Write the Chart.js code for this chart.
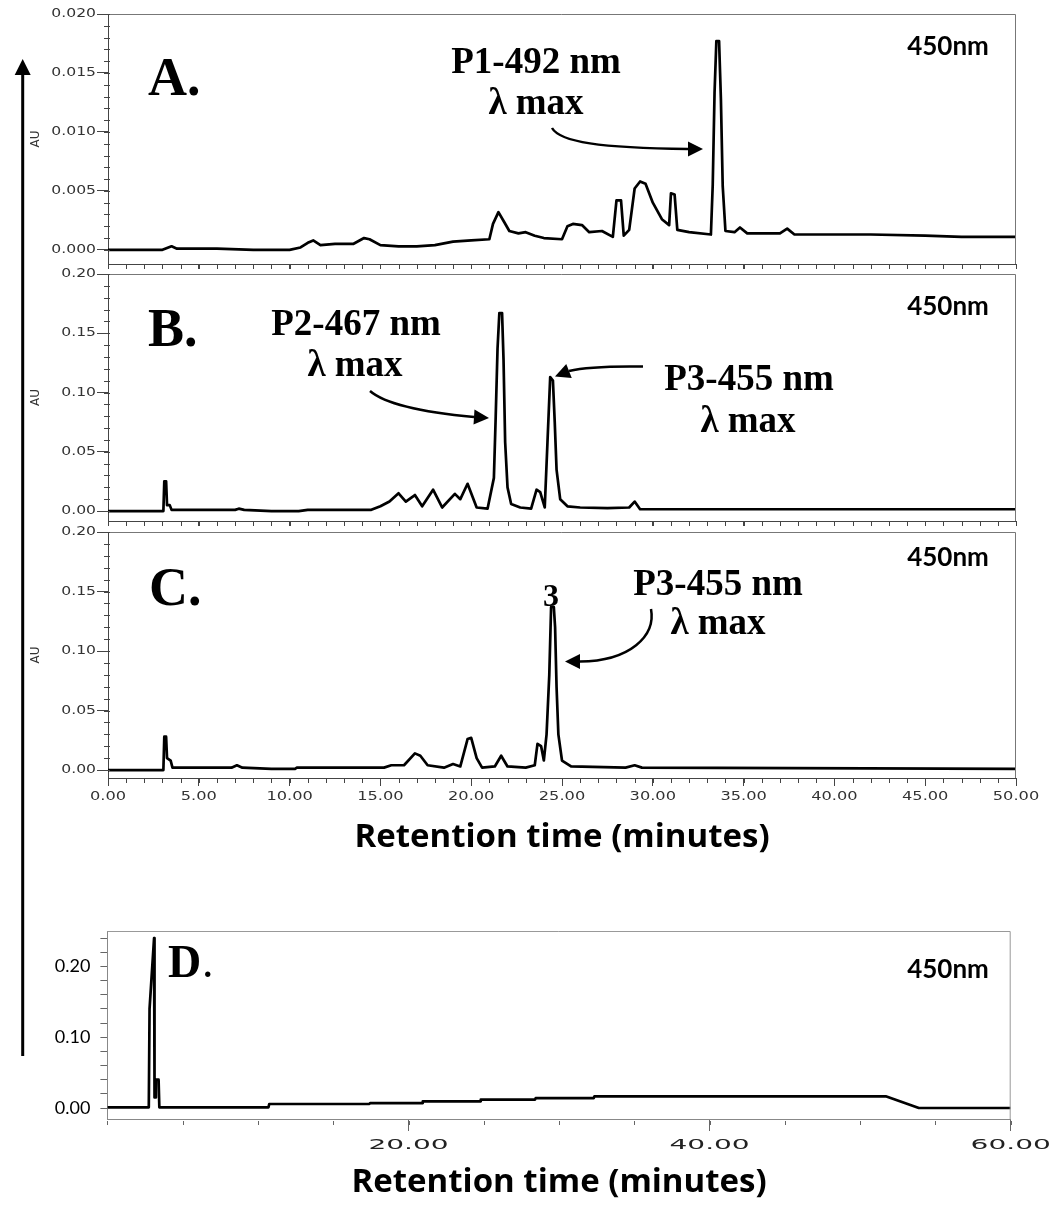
<!DOCTYPE html>
<html>
<head>
<meta charset="utf-8">
<script src="https://cdn.jsdelivr.net/npm/chart.js@4.4.1/dist/chart.umd.min.js"></script>
<style>
  html, body { margin: 0; background: #fff; }
  #wrap { position: relative; width: 1057px; height: 1205px; }
  #wrap canvas { position: absolute; left: 0; top: 0; }
</style>
</head>
<body>
<div id="wrap">
  <canvas id="chartA" width="1057" height="1205"></canvas>
  <canvas id="chartB" width="1057" height="1205"></canvas>
  <canvas id="chartC" width="1057" height="1205"></canvas>
  <canvas id="chartD" width="1057" height="1205"></canvas>
</div>
<script>
// --- Data: retention time (min) and absorbance (AU) at 450 nm ---
const timeA = [0, 3.0, 3.5, 3.8, 6.0, 8.0, 10.0, 10.6, 11.0, 11.3, 11.7, 12.5, 13.5, 14.1, 14.4, 15.0,
  16.0, 17.0, 18.0, 19.0, 20.0, 21.0, 21.2, 21.5, 21.8, 22.1, 22.6, 23.0, 23.5, 24.0,
  25.0, 25.3, 25.6, 26.1, 26.5, 27.2, 27.8, 28.0, 28.25, 28.4, 28.7, 29.0, 29.3, 29.6, 30.0, 30.5, 30.9,
  31.0, 31.2, 31.35, 32.0, 33.2, 33.3, 33.4, 33.5, 33.65, 33.75, 33.85, 34.0, 34.5, 34.8, 35.2,
  37.0, 37.4, 37.8, 42.0, 45.0, 47.0, 50.0];
const auA = [0.0000, 0.0000, 0.0003, 0.0001, 0.0001, 0.0000, 0.0000, 0.0002, 0.0006, 0.0008, 0.0004, 0.0005, 0.0005, 0.0010, 0.0009, 0.0004,
  0.0003, 0.0003, 0.0004, 0.0007, 0.0008, 0.0009, 0.0022, 0.0032, 0.0024, 0.0016, 0.0014, 0.0015, 0.0012, 0.0010,
  0.0009, 0.0020, 0.0022, 0.0021, 0.0015, 0.0016, 0.0011, 0.0042, 0.0042, 0.0012, 0.0017, 0.0052, 0.0058, 0.0056, 0.0040, 0.0026, 0.0021,
  0.0048, 0.0047, 0.0017, 0.0015, 0.0013, 0.0055, 0.0133, 0.0177, 0.0177, 0.0128, 0.0054, 0.0016, 0.0015, 0.0019, 0.0014,
  0.0014, 0.0018, 0.0013, 0.0013, 0.0012, 0.0011, 0.0011];

const timeB = [0, 3.05, 3.1, 3.2, 3.25, 3.4, 3.5, 7.0, 7.2, 7.5, 9.0, 10.5, 11.0, 14.5,
  15.0, 15.5, 16.0, 16.4, 16.9, 17.3, 17.9, 18.4, 19.1, 19.4, 19.8, 20.3, 20.9,
  21.25, 21.35, 21.45, 21.55, 21.7, 21.78, 21.87, 22.0, 22.2, 22.7, 23.3, 23.6, 23.8, 24.05,
  24.2, 24.35, 24.5, 24.6, 24.7, 24.9, 25.3, 26.0, 27.5, 28.7, 29.0, 29.3, 50];
const auB = [0, 0, 0.025, 0.025, 0.005, 0.005, 0.001, 0.001, 0.002, 0.001, 0.0, 0.0, 0.001, 0.001,
  0.004, 0.008, 0.015, 0.008, 0.0135, 0.004, 0.018, 0.003, 0.0145, 0.010, 0.023, 0.003, 0.002,
  0.028, 0.080, 0.137, 0.167, 0.167, 0.128, 0.058, 0.020, 0.006, 0.003, 0.002, 0.018, 0.016, 0.003,
  0.058, 0.113, 0.110, 0.075, 0.035, 0.010, 0.004, 0.003, 0.0025, 0.003, 0.008, 0.0015, 0.0015];

const timeC = [0, 3.05, 3.1, 3.2, 3.25, 3.45, 3.55, 6.8, 7.1, 7.4, 9.0, 10.3, 10.4,
  15.2, 15.6, 16.3, 16.9, 17.2, 17.6, 18.5, 19.0, 19.4, 19.8, 20.0, 20.3, 20.6,
  21.3, 21.65, 22.0, 23.0, 23.5, 23.65, 23.85, 24.0, 24.15, 24.3, 24.4, 24.55, 24.62, 24.7, 24.8, 25.0, 25.5,
  28.5, 29.0, 29.4, 50];
const auC = [0, 0, 0.028, 0.028, 0.010, 0.008, 0.002, 0.002, 0.004, 0.002, 0.001, 0.001, 0.002,
  0.002, 0.004, 0.004, 0.014, 0.012, 0.004, 0.002, 0.005, 0.003, 0.026, 0.027, 0.010, 0.002,
  0.003, 0.012, 0.003, 0.002, 0.004, 0.022, 0.020, 0.008, 0.030, 0.080, 0.137, 0.137, 0.120, 0.070, 0.030, 0.008, 0.003,
  0.002, 0.004, 0.002, 0.001];

const timeD = [0, 2.75, 2.8, 3.1, 3.13, 3.2, 3.22, 3.4, 3.45, 10.7, 10.75, 17.4, 17.45,
  20.9, 20.95, 24.75, 24.8, 28.4, 28.45, 32.3, 32.35, 51.7, 53.9, 60];
const auD = [0.001, 0.001, 0.140, 0.240, 0.015, 0.015, 0.040, 0.040, 0.001, 0.001, 0.0057, 0.0057, 0.007,
  0.007, 0.0094, 0.0094, 0.0118, 0.0118, 0.014, 0.014, 0.0165, 0.0165, 0.000, 0.000];

// tick labels shown on panel D
const labelsDY = [0, 0.1, 0.2];
const labelsDX = [20, 40, 60];

const W = 1057, H = 1205;
const SERIF = '"Liberation Serif", "Times New Roman", serif';
const XTITLE = { display: true, text: 'Retention time (minutes)', color: '#000',
  font: { family: 'Open Sans', weight: 'bold', size: 33 }, padding: 0 };

// --- Helpers ---
function drawArrow(ctx, w) {
  const p = w.p;
  ctx.lineWidth = w.lw || 2.5;
  ctx.strokeStyle = '#000';
  ctx.fillStyle = '#000';
  ctx.beginPath();
  ctx.moveTo(p[0], p[1]);
  ctx.bezierCurveTo(p[2], p[3], p[4], p[5], p[6], p[7]);
  ctx.stroke();
  const [tx, ty] = w.tip, bx = p[6], by = p[7], hw = w.hw || 7;
  const L = Math.hypot(tx - bx, ty - by), nx = -(ty - by) / L, ny = (tx - bx) / L;
  ctx.beginPath();
  ctx.moveTo(tx, ty);
  ctx.lineTo(bx + nx * hw, by + ny * hw);
  ctx.lineTo(bx - nx * hw, by - ny * hw);
  ctx.closePath();
  ctx.fill();
}

function stretchText(ctx, s, x, y, sx, align) {
  ctx.save();
  ctx.translate(x, y);
  ctx.scale(sx, 1);
  ctx.textAlign = align;
  ctx.fillText(s, 0, 0);
  ctx.restore();
}

// frame, minor ticks, tick labels, annotations
function decor(d) {
  return {
    id: 'decor',
    afterDraw(chart) {
      const ctx = chart.ctx, a = chart.chartArea, xs = chart.scales.x, ys = chart.scales.y;
      ctx.save();
      ctx.lineWidth = 1;
      ctx.strokeStyle = d.frame;
      ctx.beginPath();
      ctx.moveTo(a.left, a.top + 0.5);
      ctx.lineTo(a.right - 0.5, a.top + 0.5);
      ctx.lineTo(a.right - 0.5, a.bottom);
      ctx.stroke();

      ctx.strokeStyle = d.tickColor;
      if (d.minorX) {
        const m = d.minorX, n = Math.round((xs.max - xs.min) / m.step);
        for (let i = 0; i <= n; i++) {
          const px = Math.round(xs.getPixelForValue(xs.min + i * m.step)) + 0.5;
          ctx.beginPath();
          ctx.moveTo(px, a.bottom + m.gap);
          ctx.lineTo(px, a.bottom + m.gap + m.len);
          ctx.stroke();
        }
      }
      if (d.minorY) {
        const m = d.minorY, n = Math.round((m.to - m.from) / m.step);
        for (let i = 0; i <= n; i++) {
          const py = Math.round(ys.getPixelForValue(m.from + i * m.step)) + 0.5;
          ctx.beginPath();
          ctx.moveTo(a.left - m.len, py);
          ctx.lineTo(a.left + m.over, py);
          ctx.stroke();
        }
      }

      ctx.textBaseline = 'middle';
      if (d.yLab) {
        const l = d.yLab;
        ctx.font = l.font; ctx.fillStyle = l.color;
        ys.ticks.forEach(t => {
          if (l.only && !l.only.some(v => Math.abs(v - t.value) < 1e-9)) return;
          stretchText(ctx, t.value.toFixed(l.dec), a.left - l.dx, ys.getPixelForValue(t.value), l.sx, 'right');
        });
      }
      if (d.xLab) {
        const l = d.xLab;
        ctx.font = l.font; ctx.fillStyle = l.color;
        xs.ticks.forEach(t => {
          if (l.only && !l.only.some(v => Math.abs(v - t.value) < 1e-9)) return;
          stretchText(ctx, t.value.toFixed(2), xs.getPixelForValue(t.value), a.bottom + l.dy, l.sx, 'center');
        });
      }

      ctx.textBaseline = 'alphabetic';
      ctx.fillStyle = '#000';
      (d.texts || []).forEach(t => {
        ctx.font = t.font;
        ctx.textAlign = t.align || 'center';
        ctx.fillText(t.s, t.x, t.y);
      });
      (d.arrows || []).forEach(w => drawArrow(ctx, w));
      ctx.restore();
    }
  };
}

function makeChart(id, c) {
  return new Chart(document.getElementById(id), {
    type: 'line',
    data: {
      datasets: [{
        data: c.t.map((t, i) => ({ x: t, y: c.v[i] })),
        borderColor: '#000', borderWidth: 2.7, pointRadius: 0,
        borderJoinStyle: 'round', tension: 0
      }]
    },
    options: {
      responsive: false, animation: false, events: [],
      layout: { padding: { top: c.area.top, left: 0, right: W - c.area.right, bottom: H - c.area.bottom - c.xH } },
      plugins: { legend: { display: false }, tooltip: { enabled: false } },
      scales: {
        x: {
          type: 'linear', min: c.x.min, max: c.x.max,
          ticks: { stepSize: c.x.step, display: false, includeBounds: false },
          grid: { drawOnChartArea: false, tickLength: c.x.tick, color: c.tickColor,
            tickColor: ctx => (ctx.tick && ctx.tick.value === 0 && c.hideZeroX) ? 'rgba(0,0,0,0)' : c.tickColor },
          border: { color: c.axisColor, width: 1 },
          title: c.xTitle || { display: false },
          afterFit: s => { s.height = c.xH; }
        },
        y: {
          type: 'linear', min: c.y.min, max: c.y.max,
          ticks: { stepSize: c.y.step, display: false, includeBounds: false },
          grid: { drawOnChartArea: false, tickLength: c.y.tick, color: c.tickColor },
          border: { color: c.axisColor, width: 1 },
          title: c.yTitle || { display: false },
          afterFit: s => { s.width = c.area.left; }
        }
      }
    },
    plugins: [decor(c)]
  });
}

const auTitle = { display: true, text: 'AU', color: '#333',
  font: { family: 'DejaVu Sans', size: 12 }, padding: { top: 29, bottom: 0 } };
const smallY = (dec) => ({ font: '12px "DejaVu Sans"', color: '#333', sx: 1.3, dx: 12, dec });

// --- Panel A ---
makeChart('chartA', {
  t: timeA, v: auA,
  area: { left: 108, right: 1016, top: 14, bottom: 264 }, xH: 16,
  x: { min: 0, max: 50, step: 5, tick: 5 },
  y: { min: -0.0012, max: 0.020, step: 0.005, tick: 11 },
  frame: '#777', tickColor: '#444', axisColor: '#444', yTitle: auTitle,
  minorX: { step: 1, len: 5, gap: 0 },
  minorY: { step: 0.001, from: 0, to: 0.02, len: 4, over: 2 },
  yLab: smallY(3),
  texts: [
    { s: 'A.', x: 148, y: 95, font: 'bold 54px ' + SERIF, align: 'left' },
    { s: 'P1-492 nm', x: 536, y: 73, font: 'bold 37px ' + SERIF },
    { s: 'λ max', x: 536, y: 114, font: 'bold 37px ' + SERIF },
    { s: '450nm', x: 948, y: 55, font: 'bold 26px Lato' }
  ],
  arrows: [
    { p: [552, 128, 560, 142, 600, 148, 688, 149], tip: [703, 149], hw: 7.5 },
    { p: [22.7, 1056, 22.7, 700, 22.7, 400, 22.7, 75], tip: [22.7, 59], hw: 8, lw: 3 }
  ]
});

// --- Panel B ---
makeChart('chartB', {
  t: timeB, v: auB,
  area: { left: 108, right: 1016, top: 274, bottom: 521 }, xH: 16,
  x: { min: 0, max: 50, step: 5, tick: 5 },
  y: { min: -0.0084, max: 0.20, step: 0.05, tick: 11 },
  frame: '#777', tickColor: '#444', axisColor: '#444', yTitle: auTitle,
  minorX: { step: 1, len: 5, gap: 0 },
  minorY: { step: 0.01, from: 0, to: 0.2, len: 4, over: 2 },
  yLab: smallY(2),
  texts: [
    { s: 'B.', x: 148, y: 346, font: 'bold 54px ' + SERIF, align: 'left' },
    { s: 'P2-467 nm', x: 356, y: 335, font: 'bold 37px ' + SERIF },
    { s: 'λ max', x: 355, y: 376, font: 'bold 37px ' + SERIF },
    { s: 'P3-455 nm', x: 749, y: 390, font: 'bold 37px ' + SERIF },
    { s: 'λ max', x: 748, y: 432, font: 'bold 37px ' + SERIF },
    { s: '450nm', x: 948, y: 315, font: 'bold 26px Lato' }
  ],
  arrows: [
    { p: [370, 391, 385, 404, 420, 412, 474, 417], tip: [489, 418], hw: 7.5 },
    { p: [643, 366.5, 610, 366, 585, 367, 569, 371], tip: [555, 376.5], hw: 7.5 }
  ]
});

// --- Panel C ---
makeChart('chartC', {
  t: timeC, v: auC,
  area: { left: 108, right: 1016, top: 532, bottom: 778 }, xH: 60 + 19.8,
  x: { min: 0, max: 50, step: 5, tick: 8 },
  y: { min: -0.0067, max: 0.20, step: 0.05, tick: 11 },
  frame: '#777', tickColor: '#444', axisColor: '#444', yTitle: auTitle, xTitle: XTITLE,
  minorX: { step: 1, len: 5, gap: 0 },
  minorY: { step: 0.01, from: 0, to: 0.2, len: 4, over: 2 },
  yLab: smallY(2),
  xLab: { font: '12px "DejaVu Sans"', color: '#333', sx: 1.35, dy: 19 },
  texts: [
    { s: 'C.', x: 149, y: 605, font: 'bold 54px ' + SERIF, align: 'left' },
    { s: '3', x: 551, y: 606, font: 'bold 32px ' + SERIF },
    { s: 'P3-455 nm', x: 718, y: 595, font: 'bold 37px ' + SERIF },
    { s: 'λ max', x: 718, y: 634, font: 'bold 37px ' + SERIF },
    { s: '450nm', x: 948, y: 566, font: 'bold 26px Lato' }
  ],
  arrows: [
    { p: [651, 609, 656, 636, 630, 661, 580, 661.5], tip: [565, 661.5], hw: 7.5 }
  ]
});

// --- Panel D ---
makeChart('chartD', {
  t: timeD, v: auD,
  area: { left: 107.4, right: 1010.7, top: 931, bottom: 1119 }, xH: 64 + 19.8,
  x: { min: 0, max: 60, step: 20, tick: 12 },
  y: { min: -0.0155, max: 0.25, step: 0.02, tick: 7 },
  frame: '#999', tickColor: '#666', axisColor: '#888', xTitle: XTITLE, hideZeroX: true,
  minorX: { step: 5, len: 4, gap: 2 },
  yLab: { font: '18px Lato', color: '#000', sx: 1, dx: 17, dec: 2, only: labelsDY },
  xLab: { font: '14px "DejaVu Sans"', color: '#222', sx: 2.0, dy: 26, only: labelsDX },
  texts: [
    { s: 'D', x: 168, y: 977, font: 'bold 46px ' + SERIF, align: 'left' },
    { s: '.', x: 202, y: 977, font: '46px ' + SERIF, align: 'left' },
    { s: '450nm', x: 948, y: 978, font: 'bold 26px Lato' }
  ]
});
</script>
</body>
</html>
